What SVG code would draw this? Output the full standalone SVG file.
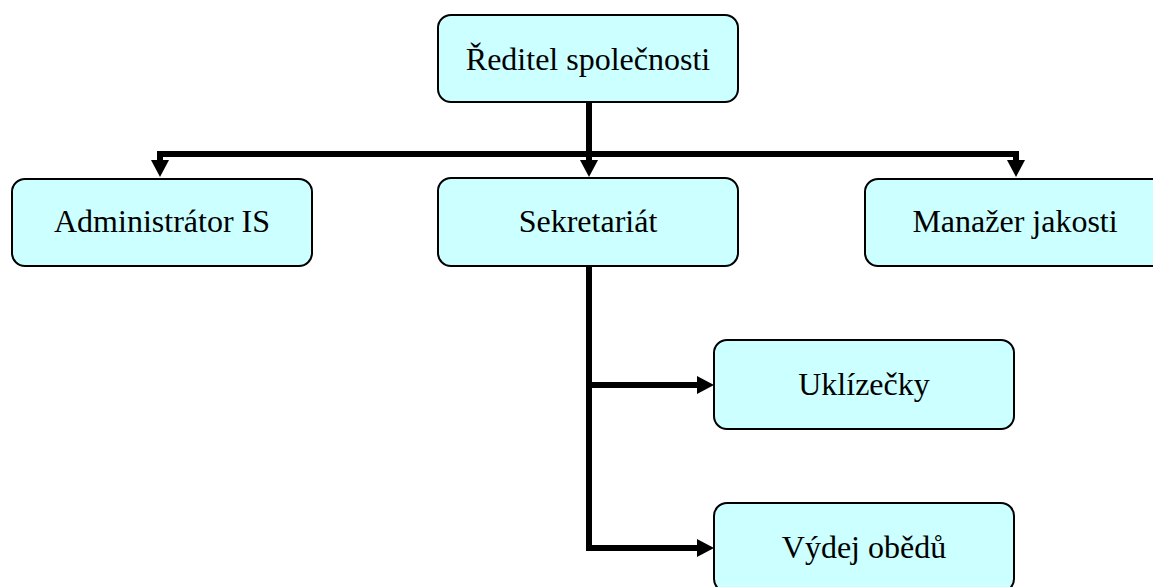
<svg xmlns="http://www.w3.org/2000/svg" width="1153" height="587" viewBox="0 0 1153 587">
  <style>
    .box { fill: #ccffff; stroke: #000; stroke-width: 2; }
    .lbl { font-family: "Liberation Serif", "Times New Roman", serif; font-size: 32px; fill: #000; text-anchor: middle; }
    .wire { fill: none; stroke: #000; stroke-width: 6; stroke-linejoin: miter; }
    .head { fill: #000; }
  </style>
  <rect width="1153" height="587" fill="#fff"/>

  <!-- connectors -->
  <g id="connectors">
    <path class="wire" d="M589,102 V160"/>
    <path class="wire" d="M160,162 V154 H1016 V162"/>
    <polygon class="head" points="151,160 169,160 160,177"/>
    <polygon class="head" points="580,160 598,160 589,177"/>
    <polygon class="head" points="1007,160 1025,160 1016,177"/>
    <path class="wire" d="M589,266 V548 H698"/>
    <path class="wire" d="M589,385 H698"/>
    <polygon class="head" points="697,376 697,394 714,385"/>
    <polygon class="head" points="697,539 697,557 714,548"/>
  </g>

  <!-- nodes -->
  <g id="reditel">
    <rect class="box" x="438" y="15" width="300" height="87" rx="13"/>
    <text class="lbl" x="588" y="70">Ředitel společnosti</text>
  </g>
  <g id="administrator">
    <rect class="box" x="12" y="179" width="300" height="87" rx="13"/>
    <text class="lbl" x="162" y="232">Administrátor IS</text>
  </g>
  <g id="sekretariat">
    <rect class="box" x="438" y="178" width="300" height="88" rx="13"/>
    <text class="lbl" x="588" y="232">Sekretariát</text>
  </g>
  <g id="manazer">
    <rect class="box" x="865" y="179" width="300" height="87" rx="13"/>
    <text class="lbl" x="1015" y="232">Manažer jakosti</text>
  </g>
  <g id="uklizecky">
    <rect class="box" x="714" y="340" width="300" height="89" rx="13"/>
    <text class="lbl" x="864" y="395">Uklízečky</text>
  </g>
  <g id="vydej">
    <rect class="box" x="714" y="503" width="300" height="89" rx="13"/>
    <text class="lbl" x="864" y="558">Výdej obědů</text>
  </g>
</svg>
